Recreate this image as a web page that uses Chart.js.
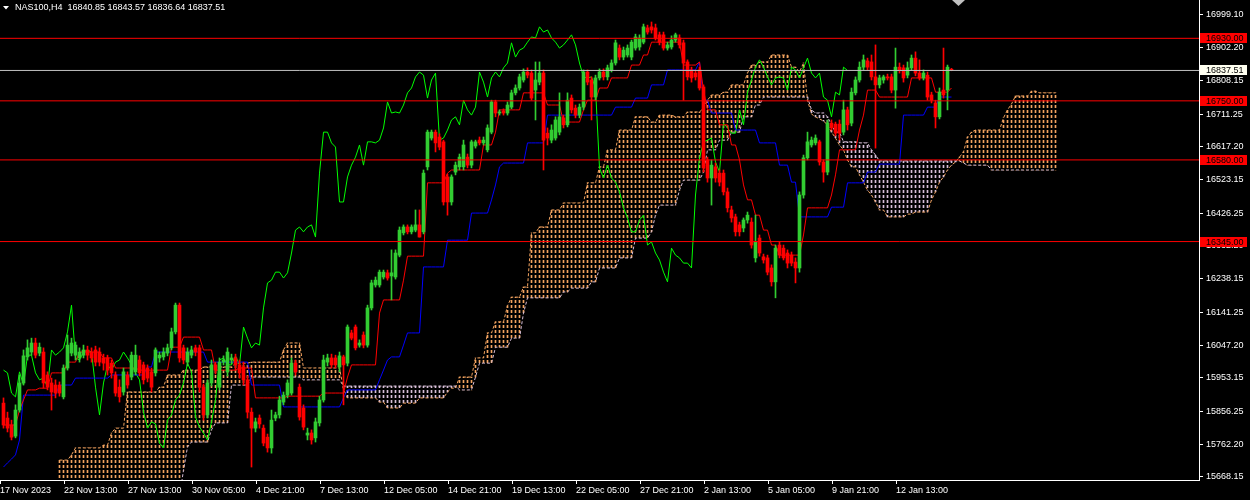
<!DOCTYPE html>
<html lang="en">
<head>
<meta charset="UTF-8">
<title>NAS100,H4</title>
<script src="https://cdn.jsdelivr.net/npm/chart.js"></script>
<style>
  html, body { margin: 0; padding: 0; background: #000; overflow: hidden; }
  canvas { display: block; }
</style>
</head>
<body>
<canvas id="chart" width="1250" height="500"></canvas>
<script>
// ---- data ----
const symbol = 'NAS100,H4';

const open = [
15880,15837,15817,15785,15860,15938,16013,16027,16053,16024,
16027,15961,15938,15932,15932,15898,15981,16024,16018,16010,
16018,16033,16027,16033,16027,16010,16010,15995,15961,15926,
15912,15961,15955,15970,16004,15990,15981,15970,15967,16010,
16013,16024,16039,16085,16162,16039,15998,16018,16039,16039,
15926,15846,15938,15990,15926,15998,15970,16004,16010,15990,
15984,15947,15854,15808,15837,15808,15782,15751,15837,15846,
15883,15903,15909,15995,15926,15866,15788,15794,15780,15823,
15889,15998,16010,16010,15984,16013,15995,16082,16099,16047,
16076,16047,16154,16220,16220,16243,16255,16246,16243,16306,
16370,16387,16373,16378,16393,16373,16560,16643,16660,16646,
16632,16531,16459,16545,16560,16560,16588,16565,16620,16637,
16629,16609,16660,16747,16715,16721,16715,16732,16773,16787,
16810,16833,16830,16781,16804,16830,16657,16637,16643,16660,
16701,16681,16758,16729,16709,16732,16833,16810,16761,16816,
16833,16819,16839,16859,16902,16876,16882,16876,16902,16905,
16919,16960,16963,16960,16940,16940,16902,16905,16925,16931,
16917,16862,16839,16830,16839,16790,16580,16528,16560,16542,
16542,16488,16436,16416,16393,16384,16407,16401,16298,16355,
16301,16298,16269,16229,16335,16326,16312,16306,16286,16269,
16479,16586,16623,16629,16632,16574,16545,16686,16683,16683,
16660,16724,16686,16773,16810,16847,16865,16862,16819,16796,
16810,16819,16819,16781,16847,16845,16824,16845,16873,16830,
16816,16824,16767,16744,16704,16781,16781,16840.85];

const high = [
15895,15854,15831,15875,15961,16033,16062,16067,16067,16053,
16039,15970,15952,15947,15941,15990,16076,16067,16056,16039,
16047,16044,16039,16044,16039,16021,16018,16004,15970,15947,
15981,15970,16027,16047,16016,15998,15990,15981,16039,16027,
16039,16050,16096,16168,16168,16047,16039,16044,16047,16047,
15935,15947,16004,15998,16010,16016,16039,16021,16021,16004,
15998,15958,15866,15837,15846,15817,15791,15860,15854,15900,
15912,15947,16010,16004,15935,15875,15808,15803,15837,15900,
16018,16021,16021,16018,16027,16018,16105,16090,16105,16062,
16085,16162,16234,16243,16263,16263,16263,16321,16321,16387,
16393,16393,16393,16436,16436,16551,16666,16666,16666,16655,
16637,16539,16537,16574,16597,16637,16597,16637,16637,16646,
16646,16681,16752,16752,16724,16727,16747,16781,16796,16827,
16842,16845,16839,16862,16862,16839,16672,16681,16704,16773,
16709,16773,16767,16738,16741,16839,16839,16819,16824,16842,
16842,16853,16868,16925,16911,16905,16911,16925,16942,16940,
16971,16968,16977,16971,16948,16948,16919,16937,16945,16940,
16925,16868,16847,16839,16847,16796,16588,16580,16571,16551,
16551,16499,16447,16424,16401,16413,16430,16413,16421,16364,
16309,16306,16278,16335,16344,16335,16321,16315,16298,16488,
16594,16660,16646,16652,16637,16580,16695,16695,16689,16695,
16752,16732,16787,16819,16862,16882,16873,16882,16911,16824,
16824,16827,16827,16902,16859,16853,16862,16882,16891,16868,
16839,16833,16775,16752,16787,16902,16853,16843.57];

const low = [
15808,15797,15774,15780,15854,15932,16004,16018,16010,16016,
15923,15918,15860,15895,15900,15892,15975,16016,16004,15998,
16010,16004,15998,15987,15987,15975,15961,15952,15900,15883,
15903,15923,15947,15961,15958,15935,15941,15912,15958,15998,
16004,16016,16033,16079,15998,15993,15987,16010,16016,15912,
15831,15837,15929,15964,15918,15990,15958,15993,15975,15952,
15932,15837,15696,15797,15808,15757,15739,15736,15829,15837,
15875,15895,15903,15961,15831,15803,15774,15762,15768,15814,
15883,15987,15981,15981,15970,15875,15987,16062,16033,16041,
16039,16041,16148,16214,16214,16237,16234,16177,16237,16301,
16364,16367,16367,16373,16358,16367,16551,16637,16603,16609,
16450,16421,16450,16537,16551,16551,16557,16557,16614,16623,
16623,16603,16655,16704,16709,16709,16709,16727,16767,16781,
16804,16816,16752,16695,16796,16551,16623,16629,16637,16652,
16672,16675,16715,16701,16701,16724,16796,16695,16752,16810,
16810,16810,16833,16853,16868,16868,16876,16868,16896,16896,
16914,16942,16945,16925,16911,16896,16896,16899,16919,16902,
16752,16810,16804,16810,16781,16545,16516,16450,16516,16505,
16479,16430,16401,16361,16361,16373,16398,16326,16286,16303,
16283,16249,16217,16183,16298,16292,16269,16275,16226,16257,
16470,16580,16617,16623,16565,16516,16537,16666,16649,16637,
16652,16666,16678,16767,16804,16839,16839,16810,16614,16787,
16801,16810,16773,16729,16830,16804,16816,16839,16822,16810,
16810,16752,16744,16672,16698,16758,16724,16836.64];

const close = [
15817,15808,15782,15860,15938,16016,16039,16053,16018,16041,
15938,15926,15912,15909,15909,15981,16047,16053,16047,16027,
16033,16018,16010,15998,15998,15995,15975,15967,15909,15898,
15970,15932,16018,16018,15967,15947,15952,15926,16033,16018,
16027,16039,16085,16162,16010,16004,16027,16033,16027,15926,
15846,15938,15990,15975,15998,16004,16027,16010,15990,15967,
15947,15854,15808,15826,15820,15765,15751,15831,15846,15889,
15903,15938,15995,15970,15840,15811,15794,15774,15826,15889,
16004,16010,15990,15990,16016,15990,16099,16067,16039,16053,
16047,16154,16226,16234,16257,16257,16240,16255,16312,16378,
16387,16373,16387,16393,16358,16542,16660,16660,16629,16617,
16459,16459,16531,16565,16588,16623,16565,16632,16632,16629,
16637,16672,16747,16715,16718,16715,16738,16773,16787,16819,
16833,16824,16758,16810,16830,16637,16643,16666,16695,16704,
16681,16752,16724,16709,16732,16833,16804,16761,16816,16833,
16819,16845,16859,16917,16876,16896,16902,16919,16934,16931,
16963,16948,16954,16931,16919,16902,16911,16925,16940,16911,
16859,16819,16816,16819,16787,16557,16528,16565,16528,16516,
16488,16442,16413,16373,16373,16407,16421,16335,16344,16312,
16292,16257,16229,16326,16306,16298,16283,16283,16269,16479,
16586,16632,16637,16643,16574,16545,16686,16672,16657,16657,
16724,16681,16775,16810,16847,16868,16847,16819,16796,16816,
16819,16816,16781,16847,16839,16816,16845,16873,16830,16816,
16830,16761,16752,16704,16775,16767,16847,16837.51];

// Ichimoku lines as runs of [value, number of bars]
const tenkanRuns = [
[15817,4],[15860,1],[15889,1],[15918,3],[15923,3],[15967,4],[15998,3],[16027,6],[16010,3],[15981,6],
[15975,8],[16041,3],[16070,5],[16033,3],[15975,6],[15981,4],[15895,8],[15900,9],[15909,6],[15955,1],
[15990,7],[16139,1],[16177,5],[16234,1],[16303,5],[16514,5],[16542,1],[16551,8],[16623,3],[16660,1],
[16724,6],[16773,6],[16738,4],[16689,5],[16724,1],[16752,3],[16787,3],[16816,5],[16853,3],[16882,2],
[16919,8],[16853,4],[16862,1],[16781,1],[16724,3],[16681,3],[16623,2],[16580,1],[16508,1],[16465,2],
[16421,2],[16378,2],[16335,2],[16306,6],[16364,1],[16442,6],[16479,1],[16537,1],[16609,5],[16666,1],
[16709,1],[16781,3],[16761,8],[16816,6],[16775,4],[16787,1]];

const kijunRuns = [
[15696,1],[15708,1],[15719,1],[15731,1],[15774,1],[15903,9],[15932,4],[15952,9],[15961,9],[15984,2],
[16027,13],[15998,11],[15932,8],[15869,15],[15895,1],[15918,8],[15947,1],[15975,1],[16004,1],[16013,3],
[16047,1],[16082,4],[16272,6],[16349,6],[16427,5],[16465,1],[16508,1],[16560,1],[16571,6],[16629,5],
[16709,17],[16732,5],[16758,4],[16796,4],[16839,8],[16862,1],[16752,2],[16715,6],[16666,6],[16629,5],
[16565,3],[16516,2],[16416,8],[16444,4],[16514,5],[16545,3],[16568,6],[16709,6],[16732,3],[16761,4]];

// Senkou spans, already shifted 26 bars ahead (264 bars)
const spanARuns = [
[null,14],[15716,3],[15731,1],[15751,7],[15759,2],[15794,1],[15808,3],[15912,8],[15926,2],[15961,4],
[15975,5],[15984,8],[15995,4],[15998,8],[16033,1],[16053,4],[15981,10],[15920,1],[15895,8],[15883,2],
[15866,4],[15880,4],[15895,7],[15912,1],[15923,2],[15955,4],[16010,3],[16082,2],[16114,3],[16160,1],
[16185,3],[16214,2],[16370,2],[16387,3],[16436,3],[16456,6],[16514,3],[16560,2],[16609,3],[16666,4],
[16704,4],[16689,2],[16709,4],[16704,3],[16718,4],[16729,1],[16752,1],[16767,3],[16775,2],[16796,4],
[16830,1],[16853,2],[16862,3],[16882,5],[16847,2],[16833,1],[16859,1],[16752,1],[16712,1],[16704,1],
[16698,1],[16692,1],[16681,1],[16660,1],[16643,1],[16623,1],[16609,1],[16580,1],[16560,2],[16537,1],
[16516,1],[16493,1],[16479,1],[16459,1],[16436,2],[16416,5],[16424,2],[16430,4],[16465,1],[16488,1],
[16516,1],[16531,1],[16551,1],[16565,1],[16574,1],[16588,1],[16603,1],[16646,1],[16660,1],[16666,7],
[16701,1],[16724,1],[16741,1],[16764,4],[16778,2],[16773,5]];

const spanBRuns = [
[null,14],[15610,31],[15687,1],[15754,1],[15768,5],[15803,1],[15823,4],[15932,5],[15955,13],[15947,10],
[15929,29],[15918,4],[15955,1],[15995,4],[16041,4],[16067,3],[16139,1],[16183,9],[16200,2],[16211,5],
[16229,2],[16269,5],[16298,4],[16355,4],[16373,1],[16421,1],[16450,5],[16493,1],[16522,5],[16545,1],
[16609,3],[16637,3],[16660,3],[16704,3],[16738,2],[16761,12],[16724,1],[16715,3],[16704,1],[16681,1],
[16660,2],[16632,4],[16629,3],[16609,1],[16594,1],[16577,21],[16571,1],[16565,6],[16551,17]];

const chikouShift = 26;

const timeLabels = ['17 Nov 2023','22 Nov 13:00','27 Nov 13:00','30 Nov 05:00','4 Dec 21:00',
  '7 Dec 13:00','12 Dec 05:00','14 Dec 21:00','19 Dec 13:00','22 Dec 05:00','27 Dec 21:00',
  '2 Jan 13:00','5 Jan 05:00','9 Jan 21:00','12 Jan 13:00'];
const labelBars = [0,16,32,48,64,80,96,112,128,144,160,176,192,208,224];

const priceTicks = [16999.10,16902.20,16808.15,16711.25,16617.20,16523.15,16426.25,16332.20,
  16238.15,16141.25,16047.20,15953.15,15856.25,15762.20,15668.15];
const levels = [16930, 16750, 16580, 16345];
const bidPrice = 16837.51;

// ---- helpers ----
function expand(runs) {
  const out = [];
  runs.forEach(([v, n]) => { for (let k = 0; k < n; k++) out.push(v); });
  return out;
}

const tenkan = expand(tenkanRuns);
const kijun = expand(kijunRuns);
const spanA = expand(spanARuns);
const spanB = expand(spanBRuns);

const canvas = document.getElementById('chart');
const ctx0 = canvas.getContext('2d');

function dotPattern(color) {
  const c = document.createElement('canvas');
  c.width = 1; c.height = 5;
  const g = c.getContext('2d');
  g.fillStyle = color;
  g.fillRect(0, 0, 1, 3);
  return ctx0.createPattern(c, 'repeat');
}

const SANDY = '#F4A460', THISTLE = '#D8BFD8';
const UP = '#32CD32', DOWN = '#FF0000';
const sandyDots = dotPattern(SANDY), thistleDots = dotPattern(THISTLE);

const xMin = -0.875, xMax = 298.875;   // 4 px per bar
const yMin = 15658.7, yMax = 17040.3;

// cloud histogram
const cloudData = [], cloudColors = [];
spanA.forEach((a, i) => {
  const b = spanB[i];
  if (a === null || b === null) return;
  cloudData.push({ x: i, y: [b, a] });
  cloudColors.push(a >= b ? sandyDots : thistleDots);
});

const pts = arr => arr.map((v, i) => ({ x: i, y: v })).filter(p => p.y !== null);

const candleColors = close.map((c, i) => c >= open[i] ? UP : DOWN);
const bodies = open.map((o, i) => ({ x: i, y: [o, close[i]] }));
const wicks = low.map((l, i) => ({ x: i, y: [l, high[i]] }));
const chikou = close.slice(chikouShift).map((c, i) => ({ x: i, y: c }));

const hline = (v, color) => ({
  type: 'line', data: [{ x: xMin, y: v }, { x: xMax, y: v }],
  borderColor: color, borderWidth: 1, pointRadius: 0, order: 0
});

const lineDs = (data, color, order, dash) => ({
  type: 'line', data, borderColor: color, borderWidth: 1, pointRadius: 0,
  tension: 0, order, borderDash: dash || []
});

const overlay = {
  id: 'overlay',
  afterDraw(chart) {
    const ctx = chart.ctx, ys = chart.scales.y;
    ctx.save();
    ctx.font = '9px "Liberation Sans"';
    ctx.textBaseline = 'middle';
    levels.forEach(v => {
      const y = Math.round(ys.getPixelForValue(v));
      ctx.fillStyle = '#FF0000';
      ctx.fillRect(1200, y - 5, 47, 10);
      ctx.fillStyle = '#000';
      ctx.fillText(v.toFixed(2), 1206, y + 0.5);
    });
    const yb = Math.round(ys.getPixelForValue(bidPrice));
    ctx.fillStyle = '#FFFFF0';
    ctx.fillRect(1200, yb - 5, 47, 10);
    ctx.fillStyle = '#000';
    ctx.fillText(bidPrice.toFixed(2), 1206, yb + 0.5);

    // title
    const n = close.length - 1;
    ctx.fillStyle = '#fff';
    ctx.beginPath();
    ctx.moveTo(3, 6); ctx.lineTo(9, 6); ctx.lineTo(6, 9.5); ctx.closePath(); ctx.fill();
    const ohlc = [open[n], high[n], low[n], close[n]].map(v => v.toFixed(2)).join(' ');
    ctx.fillText(symbol + '  ' + ohlc, 15, 8);

    // chart shift marker
    ctx.fillStyle = '#C0C0C0';
    ctx.beginPath();
    ctx.moveTo(952, 0); ctx.lineTo(965, 0); ctx.lineTo(958.5, 6); ctx.closePath(); ctx.fill();
    ctx.restore();
  }
};

new Chart(canvas, {
  type: 'bar',
  data: {
    datasets: [
      hline(levels[0], '#FF0000'), hline(levels[1], '#FF0000'),
      hline(levels[2], '#FF0000'), hline(levels[3], '#FF0000'),
      hline(bidPrice, '#C0C0C0'),
      { type: 'bar', data: bodies, backgroundColor: candleColors, barThickness: 3,
        minBarLength: 1, grouped: false, order: 1 },
      { type: 'bar', data: wicks, backgroundColor: candleColors, barThickness: 1,
        grouped: false, order: 2 },
      lineDs(pts(tenkan), '#FF0000', 5),
      lineDs(pts(kijun), '#0000FF', 5),
      lineDs(chikou, '#00FF00', 5),
      lineDs(pts(spanA), SANDY, 9, [3, 2]),
      lineDs(pts(spanB), THISTLE, 9, [3, 2]),
      { type: 'bar', data: cloudData, backgroundColor: cloudColors, barThickness: 1,
        grouped: false, order: 10 }
    ]
  },
  options: {
    responsive: false,
    devicePixelRatio: 1,
    animation: false,
    events: [],
    layout: { padding: 0 },
    plugins: { legend: { display: false }, tooltip: { enabled: false } },
    scales: {
      x: {
        type: 'linear', min: xMin, max: xMax, offset: false,
        grid: { offset: false, drawOnChartArea: false, drawTicks: true, tickLength: 4, color: '#fff' },
        border: { display: true, color: '#fff' },
        afterBuildTicks: s => { s.ticks = labelBars.map(b => ({ value: b + xMin })); },
        afterFit: s => { s.height = 20; s.paddingLeft = 0; s.paddingRight = 0; },
        ticks: {
          autoSkip: false, maxRotation: 0, align: 'start', padding: 1,
          color: '#fff', font: { family: 'Liberation Sans', size: 9 },
          callback: (v, i) => timeLabels[i]
        }
      },
      y: {
        type: 'linear', position: 'right', min: yMin, max: yMax,
        grid: { drawOnChartArea: false, drawTicks: true, tickLength: 4, color: '#fff' },
        border: { display: true, color: '#fff' },
        afterBuildTicks: s => { s.ticks = priceTicks.map(v => ({ value: v })); },
        afterFit: s => { s.width = 51; s.paddingTop = 0; s.paddingBottom = 0; },
        ticks: {
          autoSkip: false, padding: 3, color: '#fff',
          font: { family: 'Liberation Sans', size: 9 },
          callback: v => v.toFixed(2)
        }
      }
    }
  },
  plugins: [overlay]
});
</script>
</body>
</html>
